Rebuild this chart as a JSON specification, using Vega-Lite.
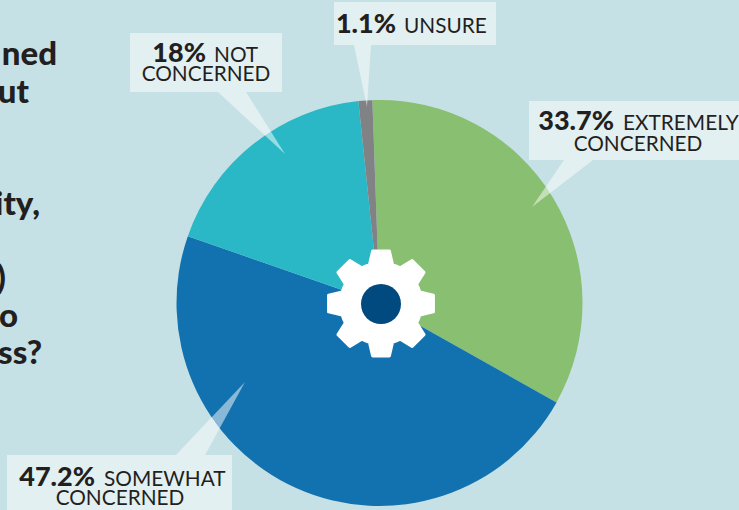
{
  "$schema": "https://vega.github.io/schema/vega-lite/v6.json",
  "width": 739,
  "height": 510,
  "autosize": {"type": "none"},
  "padding": 0,
  "background": "#C6E1E5",
  "view": {"stroke": null},
  "datasets": {
    "answers": [
      {"answer": "Extremely concerned", "rank": 1, "share": 33.7, "pct": "33.7%", "word": "EXTREMELY", "line2": "CONCERNED"},
      {"answer": "Somewhat concerned", "rank": 2, "share": 47.2, "pct": "47.2%", "word": "SOMEWHAT", "line2": "CONCERNED"},
      {"answer": "Not concerned", "rank": 3, "share": 18, "pct": "18%", "word": "NOT", "line2": "CONCERNED"},
      {"answer": "Unsure", "rank": 4, "share": 1.1, "pct": "1.1%", "word": "UNSURE", "line2": ""}
    ],
    "question": [
      {"fragment": "ned", "line": 1},
      {"fragment": "ut", "line": 2},
      {"fragment": "ity,", "line": 3},
      {"fragment": ")", "line": 4},
      {"fragment": "o", "line": 5},
      {"fragment": "ss?", "line": 6}
    ]
  },
  "data": {"name": "answers"},
  "layer": [
    {
      "mark": {"type": "arc", "outerRadius": 203},
      "encoding": {
        "x": {"datum": 379.5, "type": "quantitative", "scale": {"domain": [0, 739], "nice": false, "zero": false}, "axis": null},
        "y": {"datum": 303, "type": "quantitative", "scale": {"domain": [510, 0], "nice": false, "zero": false}, "axis": null},
        "theta": {"field": "share", "type": "quantitative", "stack": true, "scale": {"domain": [0, 100], "range": [-0.035, 6.248]}},
        "order": {"field": "rank", "type": "ordinal"},
        "color": {
          "field": "answer", "type": "nominal", "legend": null,
          "scale": {
            "domain": ["Extremely concerned", "Somewhat concerned", "Not concerned", "Unsure"],
            "range": ["#88BF70", "#1272AF", "#2BB8C6", "#808285"]
          }
        }
      }
    },
    {"transform": [{"filter": "datum.rank == 3"}], "mark": {"type": "rect", "fill": "#FFFFFF", "fillOpacity": 0.5}, "encoding": {"x": {"datum": 130}, "x2": {"datum": 282}, "y": {"datum": 33}, "y2": {"datum": 92}}},
    {"transform": [{"filter": "datum.rank == 4"}], "mark": {"type": "rect", "fill": "#FFFFFF", "fillOpacity": 0.5}, "encoding": {"x": {"datum": 334}, "x2": {"datum": 496}, "y": {"datum": 2}, "y2": {"datum": 45}}},
    {"transform": [{"filter": "datum.rank == 1"}], "mark": {"type": "rect", "fill": "#FFFFFF", "fillOpacity": 0.5}, "encoding": {"x": {"datum": 529}, "x2": {"datum": 739}, "y": {"datum": 101}, "y2": {"datum": 160}}},
    {"transform": [{"filter": "datum.rank == 2"}], "mark": {"type": "rect", "fill": "#FFFFFF", "fillOpacity": 0.5}, "encoding": {"x": {"datum": 7}, "x2": {"datum": 232}, "y": {"datum": 455}, "y2": {"datum": 510}}},
    {"transform": [{"filter": "datum.rank == 3"}], "mark": {"type": "point", "filled": true, "fill": "#FFFFFF", "fillOpacity": 0.5, "opacity": 1, "size": 40000, "shape": "M0 0L-.67 -.62L-.39 -.62Z"}, "encoding": {"x": {"datum": 285}, "y": {"datum": 154}}},
    {"transform": [{"filter": "datum.rank == 4"}], "mark": {"type": "point", "filled": true, "fill": "#FFFFFF", "fillOpacity": 0.5, "opacity": 1, "size": 40000, "shape": "M0 0L-.13 -.62L.04 -.62Z"}, "encoding": {"x": {"datum": 367}, "y": {"datum": 107}}},
    {"transform": [{"filter": "datum.rank == 1"}], "mark": {"type": "point", "filled": true, "fill": "#FFFFFF", "fillOpacity": 0.5, "opacity": 1, "size": 40000, "shape": "M0 0L.32 -.47L.61 -.47Z"}, "encoding": {"x": {"datum": 532}, "y": {"datum": 207}}},
    {"transform": [{"filter": "datum.rank == 2"}], "mark": {"type": "point", "filled": true, "fill": "#FFFFFF", "fillOpacity": 0.5, "opacity": 1, "size": 40000, "shape": "M0 0L-.69 .73L-.40 .73Z"}, "encoding": {"x": {"datum": 245}, "y": {"datum": 382}}},
    {
      "transform": [{"filter": "datum.rank == 1"}],
      "mark": {
        "type": "point", "filled": true, "fill": "#FFFFFF", "stroke": "#FFFFFF", "strokeWidth": 3, "strokeJoin": "round", "opacity": 1, "size": 11000,
        "shape": "M-.22 -.74L-.16 -1L.16 -1L.22 -.74A.77 .77 0 0 1 .367 -.679L.594 -.82L.82 -.594L.679 -.367A.77 .77 0 0 1 .74 -.22L1 -.16L1 .16L.74 .22A.77 .77 0 0 1 .679 .367L.82 .594L.594 .82L.367 .679A.77 .77 0 0 1 .22 .74L.16 1L-.16 1L-.22 .74A.77 .77 0 0 1 -.367 .679L-.594 .82L-.82 .594L-.679 .367A.77 .77 0 0 1 -.74 .22L-1 .16L-1 -.16L-.74 -.22A.77 .77 0 0 1 -.679 -.367L-.82 -.594L-.594 -.82L-.367 -.679A.77 .77 0 0 1 -.22 -.74Z"
      },
      "encoding": {"x": {"datum": 381}, "y": {"datum": 303.5}}
    },
    {
      "transform": [{"filter": "datum.rank == 1"}],
      "mark": {"type": "point", "filled": true, "shape": "circle", "fill": "#004A80", "opacity": 1, "size": 1600},
      "encoding": {"x": {"datum": 381}, "y": {"datum": 304}}
    },

    {"transform": [{"filter": "datum.rank == 3"}], "mark": {"type": "text", "align": "right", "baseline": "alphabetic", "font": "Lato", "fontWeight": 900, "fontSize": 27, "color": "#231F20"}, "encoding": {"x": {"datum": 206}, "y": {"datum": 62}, "text": {"field": "pct"}}},
    {"transform": [{"filter": "datum.rank == 3"}], "mark": {"type": "text", "align": "left", "baseline": "alphabetic", "font": "Lato", "fontSize": 20.8, "color": "#231F20"}, "encoding": {"x": {"datum": 214}, "y": {"datum": 62}, "text": {"field": "word"}}},
    {"transform": [{"filter": "datum.rank == 3"}], "mark": {"type": "text", "align": "center", "baseline": "alphabetic", "font": "Lato", "fontSize": 20.8, "color": "#231F20"}, "encoding": {"x": {"datum": 206}, "y": {"datum": 81}, "text": {"field": "line2"}}},

    {"transform": [{"filter": "datum.rank == 4"}], "mark": {"type": "text", "align": "right", "baseline": "alphabetic", "font": "Lato", "fontWeight": 900, "fontSize": 27, "color": "#231F20"}, "encoding": {"x": {"datum": 396}, "y": {"datum": 33}, "text": {"field": "pct"}}},
    {"transform": [{"filter": "datum.rank == 4"}], "mark": {"type": "text", "align": "left", "baseline": "alphabetic", "font": "Lato", "fontSize": 20.8, "color": "#231F20"}, "encoding": {"x": {"datum": 404}, "y": {"datum": 33}, "text": {"field": "word"}}},

    {"transform": [{"filter": "datum.rank == 1"}], "mark": {"type": "text", "align": "right", "baseline": "alphabetic", "font": "Lato", "fontWeight": 900, "fontSize": 27, "color": "#231F20"}, "encoding": {"x": {"datum": 614}, "y": {"datum": 130}, "text": {"field": "pct"}}},
    {"transform": [{"filter": "datum.rank == 1"}], "mark": {"type": "text", "align": "left", "baseline": "alphabetic", "font": "Lato", "fontSize": 20.8, "color": "#231F20"}, "encoding": {"x": {"datum": 623}, "y": {"datum": 130}, "text": {"field": "word"}}},
    {"transform": [{"filter": "datum.rank == 1"}], "mark": {"type": "text", "align": "center", "baseline": "alphabetic", "font": "Lato", "fontSize": 20.8, "color": "#231F20"}, "encoding": {"x": {"datum": 638}, "y": {"datum": 151}, "text": {"field": "line2"}}},

    {"transform": [{"filter": "datum.rank == 2"}], "mark": {"type": "text", "align": "right", "baseline": "alphabetic", "font": "Lato", "fontWeight": 900, "fontSize": 27, "color": "#231F20"}, "encoding": {"x": {"datum": 95}, "y": {"datum": 486}, "text": {"field": "pct"}}},
    {"transform": [{"filter": "datum.rank == 2"}], "mark": {"type": "text", "align": "left", "baseline": "alphabetic", "font": "Lato", "fontSize": 20.8, "color": "#231F20"}, "encoding": {"x": {"datum": 104}, "y": {"datum": 486}, "text": {"field": "word"}}},
    {"transform": [{"filter": "datum.rank == 2"}], "mark": {"type": "text", "align": "center", "baseline": "alphabetic", "font": "Lato", "fontSize": 20.8, "color": "#231F20"}, "encoding": {"x": {"datum": 120}, "y": {"datum": 505}, "text": {"field": "line2"}}},

    {"data": {"name": "question"}, "transform": [{"filter": "datum.line == 1"}], "mark": {"type": "text", "align": "right", "baseline": "alphabetic", "font": "Lato", "fontWeight": 900, "fontSize": 33, "color": "#231F20"}, "encoding": {"x": {"datum": 57}, "y": {"datum": 65}, "text": {"field": "fragment"}}},
    {"data": {"name": "question"}, "transform": [{"filter": "datum.line == 2"}], "mark": {"type": "text", "align": "right", "baseline": "alphabetic", "font": "Lato", "fontWeight": 900, "fontSize": 33, "color": "#231F20"}, "encoding": {"x": {"datum": 29}, "y": {"datum": 103}, "text": {"field": "fragment"}}},
    {"data": {"name": "question"}, "transform": [{"filter": "datum.line == 3"}], "mark": {"type": "text", "align": "right", "baseline": "alphabetic", "font": "Lato", "fontWeight": 900, "fontSize": 33, "color": "#231F20"}, "encoding": {"x": {"datum": 40}, "y": {"datum": 215}, "text": {"field": "fragment"}}},
    {"data": {"name": "question"}, "transform": [{"filter": "datum.line == 4"}], "mark": {"type": "text", "align": "right", "baseline": "alphabetic", "font": "Lato", "fontWeight": 900, "fontSize": 33, "color": "#231F20"}, "encoding": {"x": {"datum": 6}, "y": {"datum": 289}, "text": {"field": "fragment"}}},
    {"data": {"name": "question"}, "transform": [{"filter": "datum.line == 5"}], "mark": {"type": "text", "align": "right", "baseline": "alphabetic", "font": "Lato", "fontWeight": 900, "fontSize": 33, "color": "#231F20"}, "encoding": {"x": {"datum": 18}, "y": {"datum": 327}, "text": {"field": "fragment"}}},
    {"data": {"name": "question"}, "transform": [{"filter": "datum.line == 6"}], "mark": {"type": "text", "align": "right", "baseline": "alphabetic", "font": "Lato", "fontWeight": 900, "fontSize": 33, "color": "#231F20"}, "encoding": {"x": {"datum": 42}, "y": {"datum": 364}, "text": {"field": "fragment"}}}
  ]
}
